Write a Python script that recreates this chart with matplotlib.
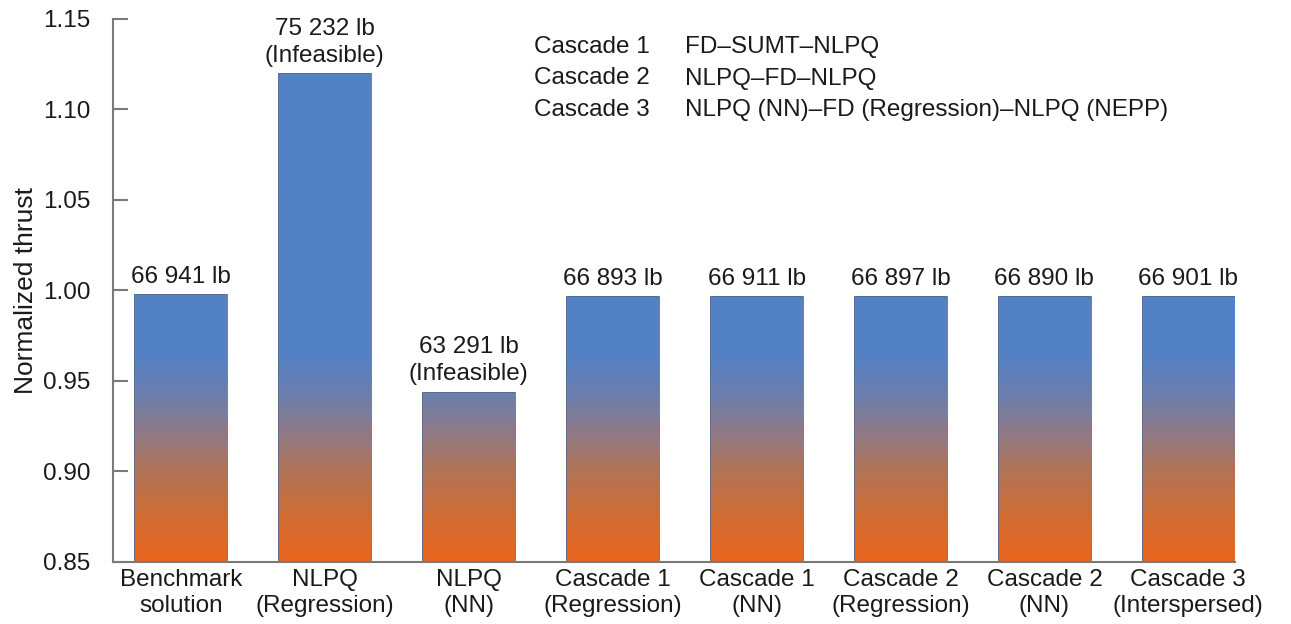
import numpy as np
import matplotlib
matplotlib.use("Agg")
from matplotlib import pyplot as plt
from matplotlib.colors import LinearSegmentedColormap

plt.rcParams['font.family'] = ['Liberation Sans', 'DejaVu Sans']

categories = ['Benchmark\nsolution', 'NLPQ\n(Regression)', 'NLPQ\n(NN)',
              'Cascade 1\n(Regression)', 'Cascade 1\n(NN)', 'Cascade 2\n(Regression)',
              'Cascade 2\n(NN)', 'Cascade 3\n(Interspersed)']
thrust = [0.998, 1.120, 0.944, 0.997, 0.997, 0.997, 0.997, 0.997]
bar_labels = ['66 941 lb', '75 232 lb\n(Infeasible)', '63 291 lb\n(Infeasible)',
              '66 893 lb', '66 911 lb', '66 897 lb', '66 890 lb', '66 901 lb']
legend_names = ['Cascade 1', 'Cascade 2', 'Cascade 3']
legend_desc = ['FD\u2013SUMT\u2013NLPQ', 'NLPQ\u2013FD\u2013NLPQ',
               'NLPQ (NN)\u2013FD (Regression)\u2013NLPQ (NEPP)']

y_min, y_max = 0.85, 1.15
text_col = '#1a1a1a'
axis_col = '#7a7a7a'
fs = 17.5

# gradient stops in data units (absolute height)
grad = LinearSegmentedColormap.from_list('thrust', [
    (0.00, '#e8671c'),
    (0.08, '#d06c34'),
    (0.17, '#b07458'),
    (0.24, '#8e7a88'),
    (0.31, '#6a7fb0'),
    (0.38, '#5482c4'),
    (1.00, '#5182c6'),
])

fig = plt.figure(figsize=(12.91, 6.24), dpi=100)
ax = fig.add_axes([0.0875, 0.0994, 0.869, 0.8702])

x = np.arange(len(categories))
width = 0.646
bars = ax.bar(x, thrust, width=width, bottom=0, color='none',
              edgecolor='#5a6a8a', linewidth=0.6, zorder=2)

g = np.linspace(0, 1, 256).reshape(-1, 1)
for b in bars:
    x0 = b.get_x()
    im = ax.imshow(g, cmap=grad, origin='lower', aspect='auto',
                   extent=(x0, x0 + width, y_min, y_max), zorder=1)
    im.set_clip_path(b)

for xi, v, lab in zip(x, thrust, bar_labels):
    ax.text(xi, v + 0.0035, lab, ha='center', va='bottom', fontsize=fs,
            color=text_col, linespacing=1.3)

ax.set_xlim(-0.472, 7.323)
ax.set_ylim(y_min, y_max)
ax.set_yticks(np.arange(0.85, 1.151, 0.05))
ax.set_yticklabels(['%.2f' % t for t in np.arange(0.85, 1.151, 0.05)])
ax.set_xticks(x)
ax.set_xticklabels(categories, linespacing=1.25)
ax.tick_params(axis='x', length=0, pad=5, labelsize=fs, labelcolor=text_col)
ax.tick_params(axis='y', direction='in', length=11, width=1.5, color=axis_col,
               pad=16, labelsize=fs, labelcolor=text_col)
ax.set_ylabel('Normalized thrust', fontsize=19, color=text_col, labelpad=4)

for s in ['top', 'right']:
    ax.spines[s].set_visible(False)
for s in ['left', 'bottom']:
    ax.spines[s].set_color(axis_col)
    ax.spines[s].set_linewidth(1.5)

for i, (n, d) in enumerate(zip(legend_names, legend_desc)):
    yy = 1 - (47 + i * 31.5) / 624
    fig.text(534 / 1291, yy, n, ha='left', va='center', fontsize=fs, color=text_col)
    fig.text(685 / 1291, yy, d, ha='left', va='center', fontsize=fs, color=text_col)

fig.savefig('out.png', dpi=100)
